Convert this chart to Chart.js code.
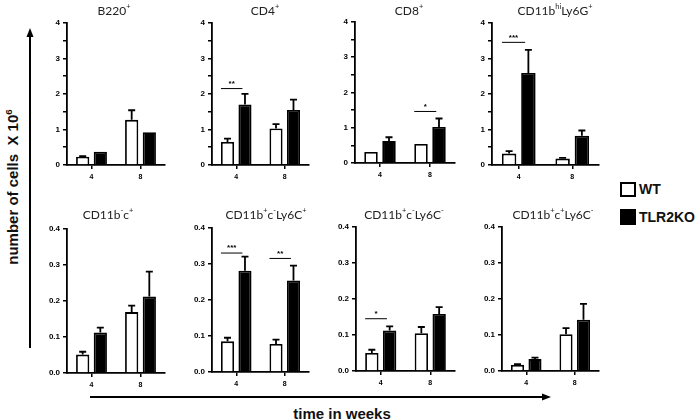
<!DOCTYPE html>
<html>
<head>
<meta charset="utf-8">
<script src="https://cdn.jsdelivr.net/npm/chart.js@4.4.0/dist/chart.umd.min.js"></script>
<style>
body { margin: 0; width: 696px; height: 420px; background: #fff; position: relative; overflow: hidden; font-family: Arial, "Liberation Sans", sans-serif; }
canvas.painel { position: absolute; }
.titulo { position: absolute; font-family: Lato, "Open Sans", sans-serif; font-size: 12px; color: #222; transform: translate(-50%, -50%); white-space: nowrap; }
.titulo sup { font-size: 0.62em; position: relative; top: -0.1em; line-height: 0; }
.rotulo { position: absolute; font-weight: bold; font-size: 15px; color: #111; white-space: nowrap; }
.rotulo sup { font-size: 0.65em; line-height: 0; }
.legenda { font-size: 14px; }
.caixa { position: absolute; width: 16px; height: 15px; box-sizing: border-box; }
svg { position: absolute; left: 0; top: 0; }
</style>
</head>
<body>
<svg width="696" height="420">
  <line x1="30" y1="348" x2="30" y2="36" stroke="#000" stroke-width="2"/>
  <polygon points="30,28 26.5,37 33.5,37" fill="#000"/>
  <line x1="90" y1="397" x2="543" y2="397" stroke="#000" stroke-width="2"/>
  <polygon points="551,397 542,393.5 542,400.5" fill="#000"/>
</svg>

<div class="rotulo" style="left:12px; top:187px; transform: translate(-50%, -50%) rotate(-90deg);">number of cells&nbsp; X 10<sup>6</sup></div>
<div class="rotulo" style="left:342px; top:413px; transform: translate(-50%, -50%);">time in weeks</div>

<div class="caixa" style="left:620px; top:182px; border:2px solid #000; background:#fff;"></div>
<div class="rotulo legenda" style="left:639px; top:189px; transform: translateY(-50%);">WT</div>
<div class="caixa" style="left:620px; top:209px; height:16px; background:#000;"></div>
<div class="rotulo legenda" style="left:639px; top:217px; transform: translateY(-50%);">TLR2KO</div>

<script>
const semanas = ['4', '8']
const titulos = [
    'B220<sup>+</sup>', 'CD4<sup>+</sup>', 'CD8<sup>+</sup>', 'CD11b<sup>hi</sup>Ly6G<sup>+</sup>',
    'CD11b<sup>-</sup>c<sup>+</sup>', 'CD11b<sup>+</sup>c<sup>-</sup>Ly6C<sup>+</sup>',
    'CD11b<sup>+</sup>c<sup>-</sup>Ly6C<sup>-</sup>', 'CD11b<sup>+</sup>c<sup>+</sup>Ly6C<sup>-</sup>'
]

// medias e erro padrao, um par (4 e 8 semanas) por painel
const mediaWT = [[0.23, 1.27], [0.65, 1.03], [0.31, 0.54], [0.32, 0.18],
                 [0.051, 0.169], [0.085, 0.078], [0.050, 0.105], [0.017, 0.102]]
const erroWT = [[0.02, 0.27], [0.09, 0.12], [0, 0], [0.07, 0.02],
                [0.008, 0.018], [0.010, 0.012], [0.009, 0.017], [0.002, 0.017]]
const mediaKO = [[0.37, 0.92], [1.70, 1.55], [0.62, 1.02], [2.59, 0.82],
                 [0.112, 0.212], [0.281, 0.254], [0.112, 0.158], [0.033, 0.142]]
const erroKO = [[0, 0], [0.30, 0.29], [0.11, 0.24], [0.65, 0.15],
                [0.014, 0.069], [0.039, 0.041], [0.012, 0.019], [0.004, 0.044]]

const maximos = [4, 4, 4, 4, 0.4, 0.4, 0.4, 0.4]

// painel, semana, altura da linha, texto
const significancia = [
    [1, 0, 2.15, '**'], [2, 1, 1.46, '*'], [3, 0, 3.45, '***'],
    [5, 0, 0.33, '***'], [5, 1, 0.315, '**'], [6, 0, 0.145, '*']
]

// posicao de cada painel na pagina: eixo esquerdo, topo, base, direita
const caixas = [[67, 21, 165, 165], [212, 21, 165, 309], [355, 20, 163, 455], [492, 21, 165, 599],
                [67, 227, 373, 165], [212, 226, 372, 309], [356, 225, 371, 455], [502, 225, 371, 599]]
const centrosTitulo = [[114, 10], [265, 10], [409, 10], [555, 10],
                       [108, 214], [266, 214], [404, 214], [553, 214]]

const LARGURA_Y = 28

const barrasDeErro = {
    id: 'barrasDeErro',
    afterDatasetsDraw(chart) {
        const ctx = chart.ctx
        const escalaY = chart.scales.y
        const painel = Number(chart.canvas.dataset.painel)
        ctx.save()
        ctx.strokeStyle = '#000'
        ctx.lineWidth = 1.8
        chart.data.datasets.forEach((ds, i) => {
            chart.getDatasetMeta(i).data.forEach((barra, j) => {
                const sem = ds.erro[j]
                if (!sem) return
                const topo = escalaY.getPixelForValue(ds.data[j] + sem)
                ctx.beginPath()
                ctx.moveTo(barra.x, barra.y)
                ctx.lineTo(barra.x, topo)
                ctx.moveTo(barra.x - 3.5, topo)
                ctx.lineTo(barra.x + 3.5, topo)
                ctx.stroke()
            })
        })
        significancia.filter(s => s[0] === painel).forEach(s => {
            const wt = chart.getDatasetMeta(0).data[s[1]]
            const ko = chart.getDatasetMeta(1).data[s[1]]
            const x1 = wt.x - wt.width / 2
            const x2 = ko.x - ko.width / 2 + 4
            const y = escalaY.getPixelForValue(s[2])
            ctx.lineWidth = 1
            ctx.beginPath()
            ctx.moveTo(x1, y)
            ctx.lineTo(x2, y)
            ctx.stroke()
            ctx.fillStyle = '#000'
            ctx.font = 'bold 8px Arial'
            ctx.textAlign = 'center'
            ctx.textBaseline = 'bottom'
            ctx.fillText(s[3], (x1 + x2) / 2, y - 1)
        })
        ctx.restore()
    }
}

function criaPainel(i) {
    const [esq, topo, base, dir] = caixas[i]
    const canvas = document.createElement('canvas')
    canvas.className = 'painel'
    canvas.dataset.painel = i
    canvas.width = dir - esq + LARGURA_Y + 4
    canvas.height = base - topo + 26
    canvas.style.left = (esq - LARGURA_Y) + 'px'
    canvas.style.top = (topo - 6) + 'px'
    document.body.appendChild(canvas)

    const titulo = document.createElement('div')
    titulo.className = 'titulo'
    titulo.innerHTML = titulos[i]
    titulo.style.left = centrosTitulo[i][0] + 'px'
    titulo.style.top = centrosTitulo[i][1] + 'px'
    document.body.appendChild(titulo)

    const pequeno = maximos[i] < 1
    new Chart(canvas, {
        type: 'bar',
        data: {
            labels: semanas,
            datasets: [{
                label: 'WT',
                data: mediaWT[i],
                erro: erroWT[i],
                backgroundColor: '#fff',
                borderColor: '#000',
                borderWidth: 1.8
            }, {
                label: 'TLR2KO',
                data: mediaKO[i],
                erro: erroKO[i],
                backgroundColor: '#000',
                borderColor: '#000',
                borderWidth: 1.8
            }]
        },
        options: {
            responsive: false,
            animation: false,
            categoryPercentage: 0.72,
            barPercentage: 0.75,
            layout: { padding: { top: 6, right: 4, left: 0, bottom: 0 } },
            plugins: { legend: { display: false }, tooltip: { enabled: false } },
            scales: {
                x: {
                    afterFit: s => { s.height = 20 },
                    grid: { drawOnChartArea: false, offset: false, tickLength: 4, color: '#000', lineWidth: 1.5 },
                    border: { color: '#000', width: 1.8 },
                    ticks: { color: '#000', font: { family: 'Arial', weight: 'bold', size: 7 }, padding: 4 }
                },
                y: {
                    min: 0,
                    max: maximos[i],
                    afterFit: s => { s.width = LARGURA_Y },
                    grid: { drawOnChartArea: false, tickLength: 4, color: '#000', lineWidth: 1.5 },
                    border: { color: '#000', width: 1.8 },
                    ticks: {
                        stepSize: pequeno ? 0.1 : 0.5,
                        autoSkip: false,
                        color: '#000',
                        padding: 3,
                        font: { family: 'Arial', weight: 'bold', size: 8 },
                        callback: v => pequeno ? v.toFixed(1) : (Number.isInteger(v) ? v : '')
                    }
                }
            }
        },
        plugins: [barrasDeErro]
    })
}

for (let i = 0; i < 8; i++) criaPainel(i)
</script>
</body>
</html>
